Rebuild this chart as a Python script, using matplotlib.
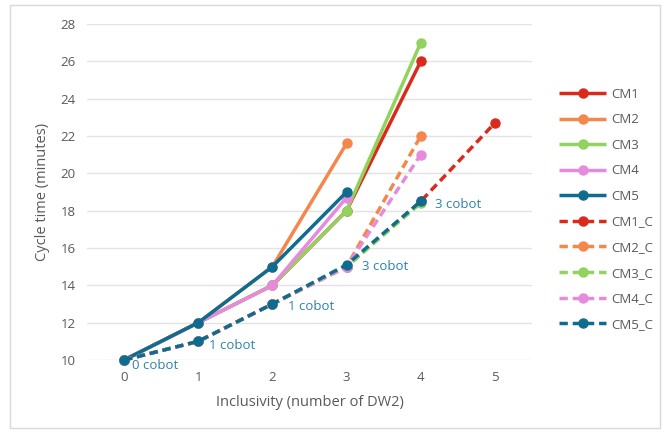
import matplotlib
matplotlib.use("Agg")
import matplotlib.pyplot as plt
from matplotlib import patches

plt.rcParams['font.family'] = ['Open Sans', 'DejaVu Sans']

# data
x_vals = [0, 1, 2, 3, 4, 5]
series = {
    'CM1': [10, 12, 14, 18, 26],
    'CM2': [10, 12, 15, 21.6],
    'CM3': [10, 12, 14, 18, 27],
    'CM4': [10, 12, 14, 18.7],
    'CM5': [10, 12, 15, 19],
    'CM1_C': [10, 11, 13, 15, 18.5, 22.7],
    'CM2_C': [10, 11, 13, 15, 22],
    'CM3_C': [10, 11, 13, 15, 18.4],
    'CM4_C': [10, 11, 13, 15, 21],
    'CM5_C': [10, 11, 13, 15.1, 18.5],
}
colors = {'CM1': '#d92a1c', 'CM2': '#f4874b', 'CM3': '#92d35f',
          'CM4': '#e68bdb', 'CM5': '#0f6c8f'}

# data labels on CM5_C
label_x = [0, 1, 2, 3, 4]
label_y = [10, 11, 13, 15.1, 18.5]
label_text = ['0 cobot', '1 cobot', '1 cobot', '3 cobot', '3 cobot']

fig = plt.figure(figsize=(6.63, 4.33), dpi=100)
fig.patches.append(patches.Rectangle((10/663, 5/433), 650/663, 423/433,
                                     transform=fig.transFigure, fill=False,
                                     edgecolor='#d9d9d9', linewidth=1))
ax = fig.add_axes([87/663, 73/433, 445/663, 336/433])

for name, vals in series.items():
    base = name.replace('_C', '')
    ls = (0, (2.4, 1.4)) if name.endswith('_C') else '-'
    ax.plot(x_vals[:len(vals)], vals, color=colors[base], linestyle=ls,
            linewidth=2.5, marker='o', markersize=6.5, label=name,
            solid_capstyle='butt', dash_capstyle='butt', clip_on=False)

offsets = [(6, -4), (8, -3), (11, -1.5), (11, -1), (10, -2.5)]
for xv, yv, t, off in zip(label_x, label_y, label_text, offsets):
    ax.annotate(t, (xv, yv), xytext=off, textcoords='offset points',
                color='#2e83a6', fontsize=9.5, va='center', ha='left')

ax.set_xlim(-0.5, 5.5)
ax.set_ylim(10, 28)
ax.set_yticks(range(10, 29, 2))
ax.set_xticks(x_vals)
ax.grid(axis='y', color='#e3e3e3', linewidth=1)
ax.set_axisbelow(True)
for s in ax.spines.values():
    s.set_visible(False)
ax.tick_params(length=0, colors='#595959', labelsize=9.5, pad=8)
ax.set_xlabel('Inclusivity (number of DW2)', color='#595959', fontsize=10.5, labelpad=8)
ax.set_ylabel('Cycle time (minutes)', color='#595959', fontsize=10.5, labelpad=8)

fig.legend(loc='upper left', bbox_to_anchor=(547/663, 1 - 76/433), frameon=False,
           fontsize=9.5, labelcolor='#595959', handlelength=3.6,
           labelspacing=0.95, handletextpad=0.4)

fig.savefig('out.png', dpi=100)
